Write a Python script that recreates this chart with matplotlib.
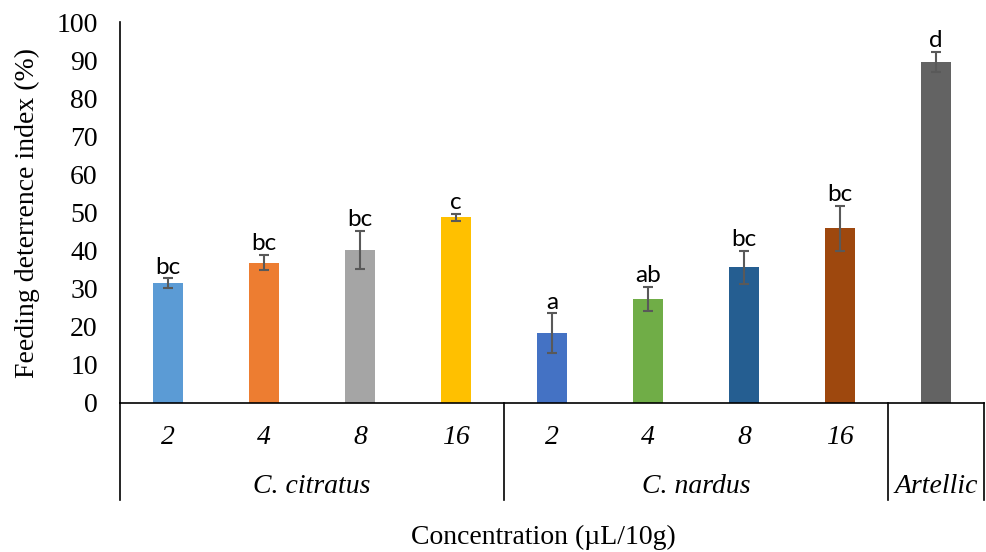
import numpy as np
import matplotlib
matplotlib.use("Agg")
import matplotlib.pyplot as plt
from matplotlib.lines import Line2D
import matplotlib.transforms as mtransforms

# data
concs = ["2", "4", "8", "16", "2", "4", "8", "16", ""]
groups = ["C. citratus", "C. nardus", "Artellic"]
group_sizes = [4, 4, 1]
fdi = [31.4, 36.8, 40.2, 48.7, 18.3, 27.3, 35.6, 45.9, 89.5]
err = [1.3, 2.0, 5.0, 1.0, 5.2, 3.1, 4.3, 5.9, 2.6]
letters = ["bc", "bc", "bc", "c", "a", "ab", "bc", "bc", "d"]
colors = ["#5B9BD5", "#ED7D31", "#A5A5A5", "#FFC000", "#4472C4",
          "#70AD47", "#255E91", "#9E480E", "#636363"]

serif = "Liberation Serif"
fs = 20

fig = plt.figure(figsize=(9.87, 5.52), dpi=100)
ax = fig.add_axes([0.1216, 0.27, 0.8755, 0.69])

x = np.arange(len(fdi))
ax.bar(x, fdi, width=0.32, color=colors, zorder=2)
ax.errorbar(x, fdi, yerr=err, fmt="none", ecolor="#595959", elinewidth=1.5,
            capsize=3.5, capthick=1.5, zorder=3)
for xi, v, e, lab in zip(x, fdi, err, letters):
    ax.annotate(lab, (xi, v + e), xytext=(0, 0.5), textcoords="offset points",
                ha="center", va="bottom", fontsize=17.5, family="Lato")

ax.set_xlim(-0.5, len(fdi) - 0.5)
ax.set_ylim(0, 100)
ax.set_yticks(np.arange(0, 101, 10))
ax.tick_params(axis="y", length=0, pad=16)
for t in ax.get_yticklabels():
    t.set_family(serif)
    t.set_fontsize(fs)
ax.set_xticks([])
for s in ["top", "right"]:
    ax.spines[s].set_visible(False)
ax.spines["left"].set_color("black")
ax.spines["bottom"].set_color("black")
ax.spines["left"].set_linewidth(1.2)
ax.spines["bottom"].set_linewidth(1.2)

ax.set_ylabel("Feeding deterrence index (%)", family=serif, fontsize=fs, labelpad=12)

# multi-level category axis
trans = mtransforms.blended_transform_factory(ax.transData, ax.transAxes)
for xi, c in zip(x, concs):
    if c:
        ax.text(xi, -0.09, c, transform=trans, ha="center", va="center",
                family=serif, style="italic", fontsize=fs)
start = 0
bottom_y = -(500 - 403) / 381
ax.add_line(Line2D([-0.5, -0.5], [0, bottom_y], transform=trans, color="black",
                   lw=1.2, clip_on=False))
for g, n in zip(groups, group_sizes):
    mid = start + (n - 1) / 2
    ax.text(mid, -0.22, g, transform=trans, ha="center", va="center",
            family=serif, style="italic", fontsize=fs)
    end = start + n - 0.5
    ax.add_line(Line2D([end, end], [0, bottom_y], transform=trans,
                       color="black", lw=1.2, clip_on=False))
    start += n

fig.text(0.551, 0.026, "Concentration (\u00b5L/10g)", ha="center", va="center",
         family=serif, fontsize=fs)

fig.savefig("out.png", dpi=100)
